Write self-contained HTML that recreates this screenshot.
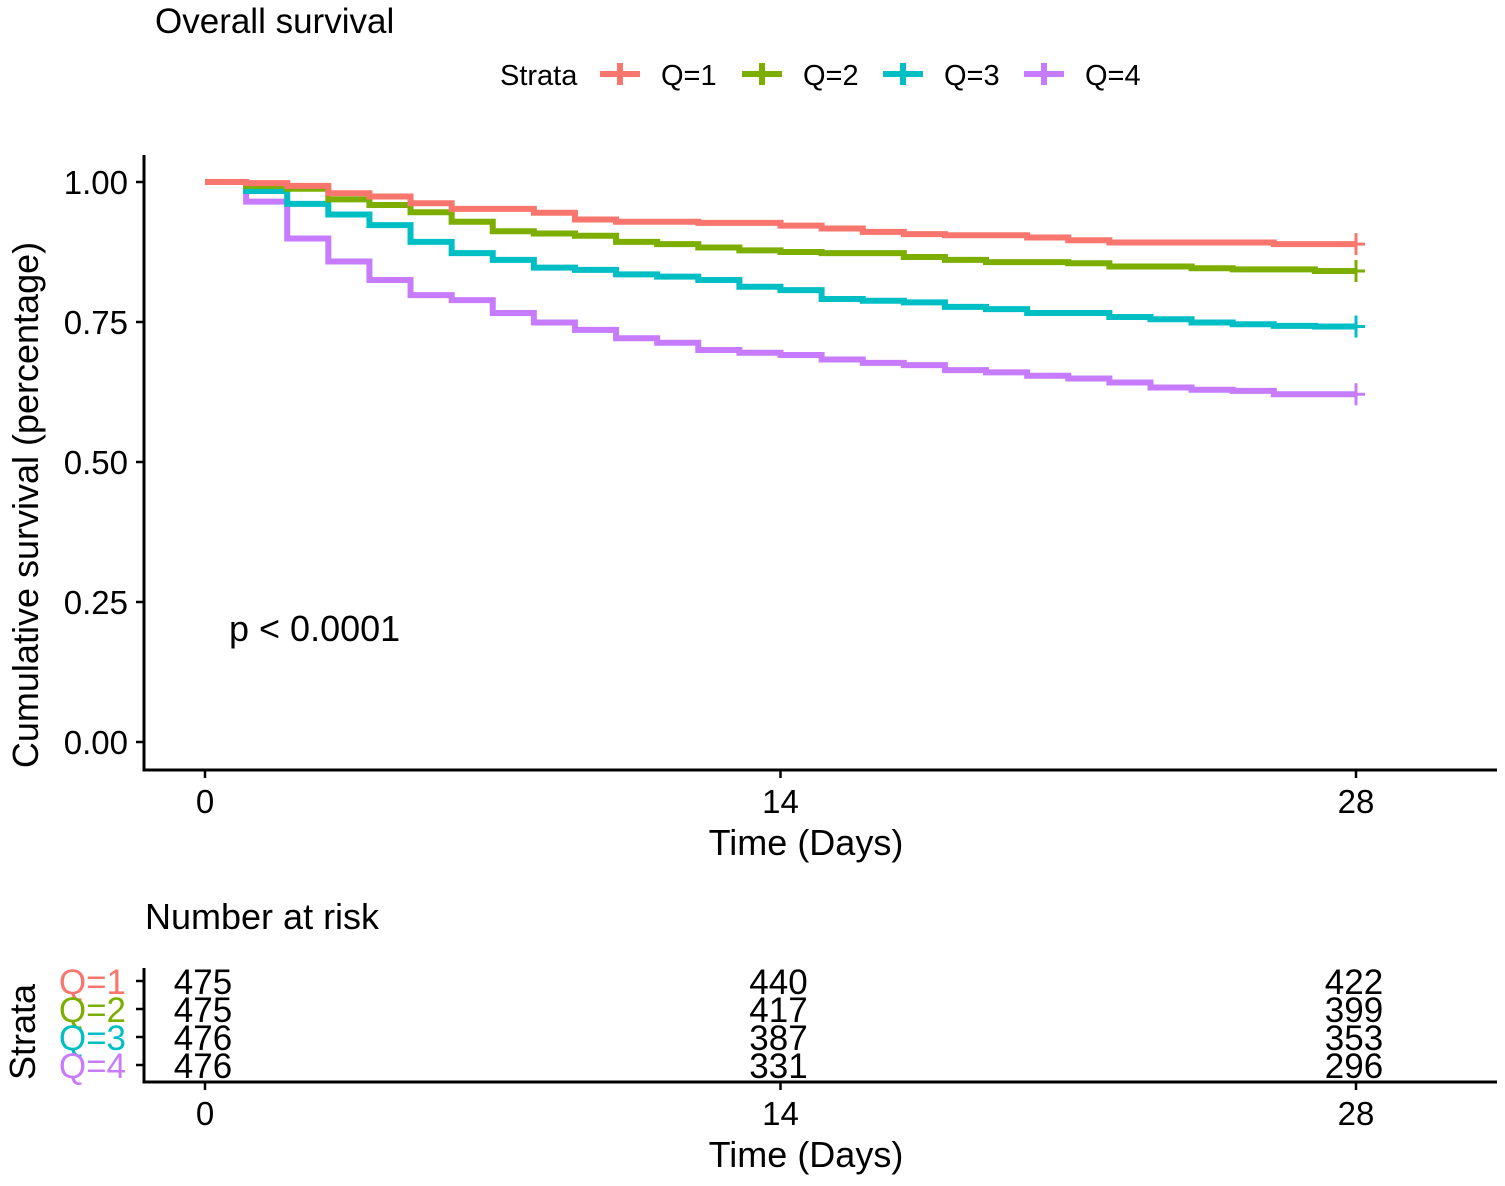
<!DOCTYPE html>
<html><head><meta charset="utf-8"><style>
body{margin:0;background:#fff}
svg text{font-family:"Liberation Sans",Arial,sans-serif}
</style></head><body>
<svg id="c" width="1505" height="1181" viewBox="0 0 1505 1181" xmlns="http://www.w3.org/2000/svg">
<text x="155" y="33" font-size="35" fill="#000">Overall survival</text>
<g id="legend"></g>
<g id="plot"></g>
<text x="38" y="505" font-size="36" text-anchor="middle" transform="rotate(-90 38 505)" fill="#000">Cumulative survival (percentage)</text>
<text x="806" y="855" font-size="36" text-anchor="middle">Time (Days)</text>
<text x="229" y="641" font-size="36">p &lt; 0.0001</text>
<text x="145" y="929" font-size="36">Number at risk</text>
<text x="35" y="1032" font-size="36" text-anchor="middle" transform="rotate(-90 35 1032)">Strata</text>
<g id="risk"></g>
<text x="806" y="1167" font-size="36" text-anchor="middle">Time (Days)</text>
</svg>
<script>
const strata=["Q=1","Q=2","Q=3","Q=4"];
const colors=["#F8766D","#7CAE00","#00BFC4","#C77CFF"];
const days=[0,1,2,3,4,5,6,7,8,9,10,11,12,13,14,15,16,17,18,19,20,21,22,23,24,25,26,27,28];
const survQ1=[1,0.998,0.993,0.980,0.974,0.962,0.952,0.952,0.945,0.933,0.929,0.929,0.927,0.927,0.922,0.917,0.911,0.907,0.905,0.905,0.901,0.896,0.892,0.892,0.892,0.892,0.889,0.889,0.889];
const survQ2=[1,0.993,0.988,0.969,0.959,0.946,0.929,0.912,0.908,0.904,0.893,0.889,0.883,0.878,0.875,0.873,0.873,0.866,0.861,0.857,0.857,0.855,0.849,0.849,0.846,0.844,0.844,0.841,0.841];
const survQ3=[1,0.984,0.961,0.942,0.923,0.893,0.873,0.861,0.847,0.843,0.835,0.831,0.825,0.813,0.807,0.791,0.788,0.785,0.777,0.773,0.766,0.766,0.759,0.755,0.749,0.746,0.743,0.742,0.742];
const survQ4=[1,0.965,0.899,0.858,0.825,0.798,0.789,0.766,0.749,0.736,0.721,0.713,0.700,0.695,0.691,0.683,0.677,0.673,0.664,0.660,0.654,0.649,0.642,0.633,0.629,0.627,0.621,0.621,0.621];
const yTicks=[0,0.25,0.5,0.75,1];
const yTickLabels=["0.00","0.25","0.50","0.75","1.00"];
const xTicks=[0,14,28];
const riskQ1=[475,440,422],riskQ2=[475,417,399],riskQ3=[476,387,353],riskQ4=[476,331,296];
const series=[survQ1,survQ2,survQ3,survQ4];
const risks=[riskQ1,riskQ2,riskQ3,riskQ4];
const NS="http://www.w3.org/2000/svg";
const X=d=>205+d*(1356-205)/28;
const Y=s=>742-s*560;
function mk(tag,attrs,parent){const e=document.createElementNS(NS,tag);for(const k in attrs)e.setAttribute(k,attrs[k]);parent.appendChild(e);return e;}
const plot=document.getElementById('plot');
let ax=mk('path',{d:"M144,155V770H1497",stroke:"#000","stroke-width":3,fill:"none"},plot);


yTicks.forEach((v,i)=>{
 let t=mk('line',{x1:136,x2:144,y1:Y(v),y2:Y(v),stroke:"#000","stroke-width":2.5},plot);
 
 
 let l=mk('text',{x:128,y:Y(v)+12,"font-size":33,"text-anchor":"end"},plot);l.textContent=yTickLabels[i];
 
 
});
xTicks.forEach(d=>{
 let t=mk('line',{x1:X(d),x2:X(d),y1:770,y2:778,stroke:"#000","stroke-width":2.5},plot);
 
 
 let l=mk('text',{x:X(d),y:813,"font-size":33,"text-anchor":"middle"},plot);l.textContent=d;
 
 
});
[3,2,1,0].forEach(i=>{
 const s=series[i];let d="M"+X(days[0])+","+Y(s[0]);
 for(let k=1;k<days.length;k++){d+="H"+X(days[k])+"V"+Y(s[k]);}
 let p=mk('path',{d:d,stroke:colors[i],"stroke-width":6,fill:"none"},plot);
 
 
 const last=s[s.length-1],xe=X(days[days.length-1]);
 let c=mk('path',{d:`M${xe-9},${Y(last)}H${xe+9}M${xe},${Y(last)-11}V${Y(last)+11}`,stroke:colors[i],"stroke-width":3,fill:"none"},plot);
 
 
});
const lg=document.getElementById('legend');
let lt=mk('text',{x:500,y:85,"font-size":29},lg);lt.textContent="Strata";


const lx=[600,742,883,1024];
strata.forEach((s,i)=>{
 let k=mk('path',{d:`M${lx[i]},74H${lx[i]+40}M${lx[i]+20},63V85`,stroke:colors[i],"stroke-width":6,fill:"none"},lg);
 
 
 let t=mk('text',{x:lx[i]+61,y:85,"font-size":29},lg);t.textContent=s;
 
 
});
const rk=document.getElementById('risk');
let ra=mk('path',{d:"M144,968V1082H1497",stroke:"#000","stroke-width":3,fill:"none"},rk);


const rowY=[981,1009,1037,1065];
strata.forEach((s,i)=>{
 let t=mk('line',{x1:136,x2:144,y1:rowY[i],y2:rowY[i],stroke:"#000","stroke-width":2.5},rk);
 
 
 let l=mk('text',{x:126,y:rowY[i]+13,"font-size":35,"text-anchor":"end",fill:colors[i]},rk);l.textContent=s;
 
 
 xTicks.forEach((d,j)=>{
  let v=mk('text',{x:X(d)-2,y:rowY[i]+13,"font-size":35,"text-anchor":"middle"},rk);v.textContent=risks[i][j];
  
  
 });
});
xTicks.forEach(d=>{
 let t=mk('line',{x1:X(d),x2:X(d),y1:1082,y2:1090,stroke:"#000","stroke-width":2.5},rk);
 
 
 let l=mk('text',{x:X(d),y:1125,"font-size":33,"text-anchor":"middle"},rk);l.textContent=d;
 
 
});
</script>
</body></html>
